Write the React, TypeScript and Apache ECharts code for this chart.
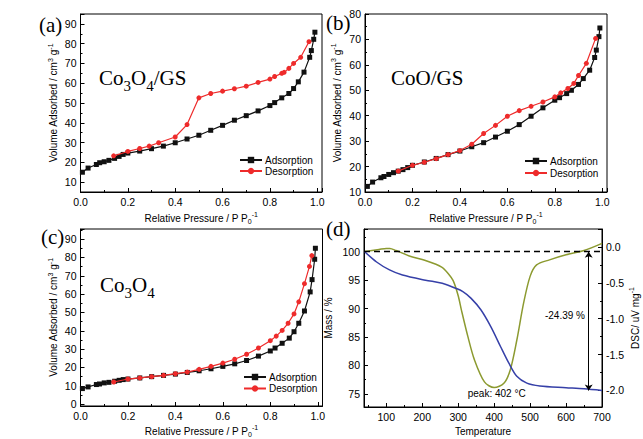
import React, { useEffect, useRef } from "react";
import * as echarts from "echarts";

// ---------- data ----------
const aAdsX = [0.008, 0.032, 0.067, 0.081, 0.1, 0.12, 0.144, 0.163, 0.18, 0.2, 0.25, 0.3, 0.35, 0.4, 0.45, 0.5, 0.55, 0.6, 0.65, 0.7, 0.75, 0.8, 0.82, 0.85, 0.88, 0.9, 0.92, 0.944, 0.968, 0.975, 0.985, 0.99];
const aAdsY = [15.0, 17.1, 18.9, 19.8, 20.3, 21, 22, 23, 24, 24.7, 25.7, 26.9, 28.2, 29.9, 31.8, 33.7, 36.2, 38.7, 41.3, 43.6, 46, 48.7, 50.2, 52.6, 54.8, 57.3, 60.7, 65.6, 73.1, 76.5, 82.2, 85.8];
const aDesX = [0.14, 0.2, 0.25, 0.29, 0.33, 0.4, 0.45, 0.5, 0.55, 0.6, 0.65, 0.7, 0.75, 0.8, 0.82, 0.85, 0.86, 0.88, 0.9, 0.93, 0.965];
const aDesY = [23.3, 25.5, 27, 28.2, 29.9, 32.8, 39.1, 52.6, 54.8, 56, 57.2, 58.5, 60.4, 62.1, 63.4, 65, 65.5, 67.5, 70, 73.1, 81];

const bAdsX = [0.01, 0.032, 0.067, 0.08, 0.1, 0.12, 0.14, 0.16, 0.18, 0.2, 0.25, 0.3, 0.35, 0.4, 0.45, 0.5, 0.55, 0.6, 0.65, 0.7, 0.75, 0.8, 0.82, 0.85, 0.87, 0.9, 0.92, 0.947, 0.968, 0.975, 0.986, 0.99];
const bAdsY = [12.2, 13.9, 15.6, 16.1, 16.9, 17.6, 18.2, 18.8, 19.6, 20.5, 21.8, 23.2, 24.7, 26.1, 27.8, 29.4, 31.6, 33.9, 36.5, 39.8, 43.1, 46.1, 47.1, 48.7, 50, 52.3, 54.6, 57.9, 62.9, 65.8, 71.1, 74.5];
const bDesX = [0.14, 0.2, 0.25, 0.3, 0.35, 0.4, 0.45, 0.5, 0.55, 0.6, 0.65, 0.7, 0.75, 0.8, 0.825, 0.855, 0.88, 0.9, 0.933, 0.972];
const bDesY = [18.2, 20.5, 21.7, 23.1, 24.7, 26.3, 28.8, 33, 36.2, 39.8, 42, 43.7, 45.4, 47.4, 49, 50.7, 52.7, 55.8, 60.6, 70.4];

const cAdsX = [0.008, 0.032, 0.067, 0.08, 0.1, 0.12, 0.144, 0.163, 0.18, 0.2, 0.25, 0.3, 0.35, 0.4, 0.45, 0.5, 0.55, 0.6, 0.65, 0.7, 0.75, 0.8, 0.82, 0.85, 0.88, 0.9, 0.92, 0.944, 0.968, 0.976, 0.987, 0.99];
const cAdsY = [8.5, 9.4, 10.7, 11, 11.6, 11.9, 12.5, 13, 13.4, 13.7, 14.3, 15, 15.7, 16.4, 17.3, 18.2, 19.3, 20.6, 22, 23.8, 26.2, 29, 30.6, 33.2, 36, 39.5, 44.1, 50.8, 61.2, 67.9, 79, 85];
const cDesX = [0.14, 0.2, 0.25, 0.3, 0.35, 0.4, 0.45, 0.5, 0.55, 0.6, 0.65, 0.7, 0.75, 0.8, 0.825, 0.85, 0.875, 0.9, 0.92, 0.944, 0.965, 0.975];
const cDesY = [12.1, 13.7, 14.3, 15, 15.7, 16.6, 17.5, 19, 20.6, 22.4, 24.5, 27.2, 30.6, 34.6, 37.1, 40.2, 44.1, 49.2, 55.8, 65.7, 75.1, 81];

const massT = [40, 73, 109, 145, 209, 245, 264, 286, 313, 336, 363, 391, 418, 441, 463, 491, 527, 600, 650, 700];
const massV = [100, 98.2, 96.8, 95.9, 95.0, 94.6, 94.3, 93.75, 93.0, 91.8, 89.8, 86.8, 83.3, 80.4, 78.1, 76.9, 76.4, 76.1, 75.9, 75.6];
const dscT = [40, 60, 80, 100, 110, 127, 164, 209, 254, 272, 286, 300, 309, 327, 345, 373, 400, 427, 445, 463, 482, 500, 518, 554, 600, 650, 700];
const dscV = [-0.065, -0.05, -0.035, -0.02, -0.02, -0.05, -0.125, -0.19, -0.28, -0.37, -0.47, -0.68, -0.88, -1.25, -1.57, -1.88, -1.96, -1.9, -1.71, -1.3, -0.78, -0.41, -0.25, -0.18, -0.11, -0.05, 0.05];

const massBaseline = 100;
const massFinal = 75.6;
const arrowT = 663;
const lossLabel = "-24.39 %";
const lossLabelPos = [597, 88.8];
const peakLabel = "peak: 402 °C";
const peakLabelPos = [407, 75.0];

const panelLabels = ["(a)", "(b)", "(c)", "(d)"];
const legendNames = ["Adsorption", "Desorption"];

// ---------- styles ----------
const FONT = '"Liberation Sans", Arial, Helvetica, sans-serif';
const SERIF = '"Liberation Serif", "Times New Roman", Times, serif';
const RED = "#ee2b2b";
const BLACK = "#111111";
const BLUE = "#3640a8";
const GREEN = "#8c9a30";

const zip = (xs: number[], ys: number[]) => xs.map((x, i) => [x, ys[i]]);
const isMult = (v: number, m: number) => Math.abs(v / m - Math.round(v / m)) < 1e-6;

const richName = {
  n: { fontSize: 10, lineHeight: 14, fontFamily: FONT, color: "#000" },
  sup: { fontSize: 7, lineHeight: 7, verticalAlign: "top", fontFamily: FONT, color: "#000" },
  sub: { fontSize: 7, lineHeight: 7, verticalAlign: "bottom", fontFamily: FONT, color: "#000" },
};

function baseAxis(extra: any) {
  return {
    type: "value",
    axisLine: { show: true, onZero: false, lineStyle: { color: "#000", width: 1 } },
    axisTick: { show: true, inside: true, length: 4, lineStyle: { color: "#000" } },
    minorTick: { show: true, splitNumber: 2, length: 2, lineStyle: { color: "#000" } },
    splitLine: { show: false },
    nameLocation: "middle",
    nameTextStyle: { fontSize: 10, lineHeight: 14, fontFamily: FONT, color: "#000", rich: richName },
    ...extra,
    axisLabel: { color: "#000", fontSize: 10.5, fontFamily: FONT, margin: 4, ...(extra.axisLabel || {}) },
  };
}

const pressureName = "{n|Relative Pressure / P P}{sub|0}{sup|-1}";
const volumeName = "{n|Volume Adsorbed / cm}{sup|3}{n| g}{sup|-1}";

function xPressure(grid: number, gap: number) {
  return baseAxis({
    gridIndex: grid, min: 0, max: 1.02, interval: 0.2, name: pressureName, nameGap: gap,
    axisLabel: { formatter: (v: number) => (isMult(v, 0.2) ? v.toFixed(1) : "") },
  });
}
function yVolume(grid: number, min: number, max: number, gap: number) {
  return baseAxis({
    gridIndex: grid, min, max, splitNumber: 9, name: volumeName, nameGap: gap,
    axisLabel: { formatter: (v: number) => (isMult(v, 10) ? String(Math.round(v)) : "") },
  });
}

function isoSeries(xi: number, ads: number[][], des: number[][]) {
  return [
    {
      type: "line", name: "Adsorption", xAxisIndex: xi, yAxisIndex: xi, data: ads,
      symbol: "rect", symbolSize: 5, showSymbol: true, color: BLACK,
      lineStyle: { color: BLACK, width: 1.2 }, itemStyle: { color: BLACK }, z: 2,
    },
    {
      type: "line", name: "Desorption", xAxisIndex: xi, yAxisIndex: xi, data: des,
      symbol: "circle", symbolSize: 5, showSymbol: true, color: RED,
      lineStyle: { color: RED, width: 1.2 }, itemStyle: { color: RED }, z: 3,
    },
  ];
}

function legendAt(left: number, top: number, gap: number) {
  return {
    data: legendNames, left, top, orient: "vertical", padding: 0, itemGap: gap,
    itemWidth: 22, itemHeight: 8, selectedMode: false,
    textStyle: { fontSize: 10, lineHeight: 11, fontFamily: FONT, color: "#000", padding: [0, 0, 0, -2] },
  };
}

function serifText(x: number, y: number, text: string, size: number) {
  return {
    type: "text", x, y, silent: true,
    style: {
      text, fill: "#000", fontFamily: SERIF, fontSize: size, align: "left", verticalAlign: "middle",
      rich: {
        b: { fontSize: size, lineHeight: 30, fontFamily: SERIF, fill: "#000", color: "#000" },
        s: { fontSize: 15, lineHeight: 14, verticalAlign: "bottom", fontFamily: SERIF, fill: "#000", color: "#000" },
      },
    },
  };
}

export default function App() {
  const ref = useRef<HTMLDivElement>(null);
  useEffect(() => {
    if (!ref.current) return;
    const chart = echarts.init(ref.current, undefined, { renderer: "svg" });
    const option: any = {
      animation: false,
      backgroundColor: "#fff",
      grid: [
        { left: 80.5, top: 14, width: 241.5, height: 178, show: true, borderColor: "#000", borderWidth: 1, backgroundColor: "transparent" },
        { left: 365, top: 14, width: 242, height: 178, show: true, borderColor: "#000", borderWidth: 1, backgroundColor: "transparent" },
        { left: 80.5, top: 229, width: 242, height: 178.5, show: true, borderColor: "#000", borderWidth: 1, backgroundColor: "transparent" },
        { left: 364, top: 229, width: 243, height: 178, show: true, borderColor: "#000", borderWidth: 1, backgroundColor: "transparent" },
      ],
      xAxis: [
        xPressure(0, 19),
        xPressure(1, 19),
        xPressure(2, 18),
        baseAxis({
          gridIndex: 3, min: 38, max: 700, splitNumber: 6, name: "{n|Temperature}", nameGap: 17,
          axisLabel: { formatter: (v: number) => (isMult(v, 100) ? String(Math.round(v)) : "") },
        }),
      ],
      yAxis: [
        yVolume(0, 5, 95, 20),
        baseAxis({
          gridIndex: 1, min: 10, max: 80, interval: 10, name: volumeName, nameGap: 21,
          axisLabel: { formatter: (v: number) => String(Math.round(v)) },
        }),
        yVolume(2, -1, 95.5, 20),
        baseAxis({
          gridIndex: 3, min: 72.7, max: 104, splitNumber: 6, name: "{n|Mass / %}", nameGap: 29,
          axisLabel: { formatter: (v: number) => (isMult(v, 5) ? String(Math.round(v)) : "") },
        }),
        baseAxis({
          gridIndex: 3, position: "right", min: -2.23, max: 0.25, splitNumber: 5,
          name: "{n|DSC/ uV mg}{sup|-1}", nameGap: 23,
          axisLabel: { formatter: (v: number) => (isMult(v, 0.5) ? (Math.abs(v) < 1e-9 ? "0.0" : v.toFixed(1)) : "") },
        }),
      ],
      legend: [legendAt(239, 154.5, 0), legendAt(524, 155.5, 1), legendAt(243, 371.5, 0.5)],
      series: [
        ...isoSeries(0, zip(aAdsX, aAdsY), zip(aDesX, aDesY)),
        ...isoSeries(1, zip(bAdsX, bAdsY), zip(bDesX, bDesY)),
        ...isoSeries(2, zip(cAdsX, cAdsY), zip(cDesX, cDesY)),
        {
          type: "line", name: "Mass", xAxisIndex: 3, yAxisIndex: 3, data: zip(massT, massV),
          smooth: 0.3, showSymbol: false, symbol: "none", color: BLUE,
          lineStyle: { color: BLUE, width: 1.5 }, z: 3,
          markLine: {
            silent: true, animation: false, precision: 2,
            symbol: ["none", "none"],
            label: { show: false },
            data: [
              { yAxis: massBaseline, lineStyle: { color: "#000", type: [6, 4], width: 1.3 } },
              [
                { coord: [arrowT, massBaseline], symbol: "arrow", symbolSize: 6 },
                { coord: [arrowT, massFinal], symbol: "arrow", symbolSize: 6 },
              ],
            ],
            lineStyle: { color: "#000", type: "solid", width: 1 },
          },
          markPoint: {
            silent: true, animation: false, symbol: "circle", symbolSize: 0,
            label: { show: true, position: "inside", formatter: "{b}", color: "#000", fontSize: 10, fontFamily: FONT },
            data: [
              { name: lossLabel, coord: lossLabelPos },
              { name: peakLabel, coord: peakLabelPos },
            ],
          },
        },
        {
          type: "line", name: "DSC", xAxisIndex: 3, yAxisIndex: 4, data: zip(dscT, dscV),
          smooth: 0.3, showSymbol: false, symbol: "none", color: GREEN,
          lineStyle: { color: GREEN, width: 1.5 }, z: 2,
        },
      ],
      graphic: [
        { type: "text", x: 39, y: 25, silent: true, style: { text: panelLabels[0], fill: "#000", fontFamily: SERIF, fontSize: 21, verticalAlign: "middle" } },
        { type: "text", x: 326, y: 23, silent: true, style: { text: panelLabels[1], fill: "#000", fontFamily: SERIF, fontSize: 21, verticalAlign: "middle" } },
        { type: "text", x: 41, y: 237, silent: true, style: { text: panelLabels[2], fill: "#000", fontFamily: SERIF, fontSize: 21, verticalAlign: "middle" } },
        { type: "text", x: 326, y: 229, silent: true, style: { text: panelLabels[3], fill: "#000", fontFamily: SERIF, fontSize: 21, verticalAlign: "middle" } },
        serifText(99, 78, "{b|Co}{s|3}{b|O}{s|4}{b|/GS}", 21),
        serifText(391, 78, "{b|CoO/GS}", 21),
        serifText(100, 285, "{b|Co}{s|3}{b|O}{s|4}", 21),
      ],
    };
    chart.setOption(option);
    return () => chart.dispose();
  }, []);
  return <div ref={ref} style={{ position: "absolute", left: 0, top: 0, width: 643, height: 439 }} />;
}
